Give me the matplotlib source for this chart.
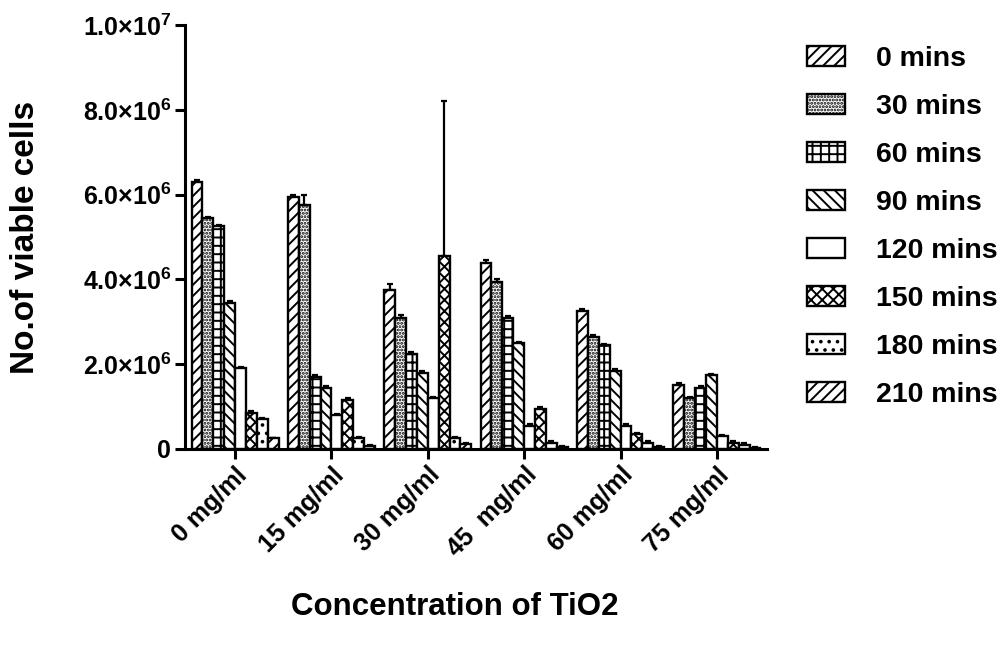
import numpy as np
import matplotlib.pyplot as plt

plt.rcParams['font.family'] = ['Liberation Sans', 'DejaVu Sans']
plt.rcParams['font.weight'] = 'bold'
plt.rcParams['mathtext.fontset'] = 'custom'
plt.rcParams['mathtext.rm'] = 'Liberation Sans:bold'
plt.rcParams['mathtext.it'] = 'Liberation Sans:bold'
plt.rcParams['mathtext.bf'] = 'Liberation Sans:bold'
plt.rcParams['hatch.linewidth'] = 1.4

# Concentrations on the x axis
concentrations = ['0 mg/ml', '15 mg/ml', '30 mg/ml', '45  mg/ml', '60 mg/ml', '75 mg/ml']
times = ['0 mins', '30 mins', '60 mins', '90 mins', '120 mins', '150 mins', '180 mins', '210 mins']

# Viable cell counts (x1e6) per exposure time, one value per concentration
cells_0 = [6.30, 5.95, 3.75, 4.40, 3.25, 1.50]
cells_30 = [5.45, 5.75, 3.10, 3.95, 2.65, 1.20]
cells_60 = [5.25, 1.70, 2.25, 3.10, 2.45, 1.45]
cells_90 = [3.45, 1.45, 1.80, 2.50, 1.85, 1.75]
cells_120 = [1.90, 0.80, 1.20, 0.55, 0.55, 0.30]
cells_150 = [0.85, 1.15, 4.55, 0.95, 0.35, 0.15]
cells_180 = [0.70, 0.25, 0.25, 0.15, 0.15, 0.10]
cells_210 = [0.25, 0.07, 0.12, 0.05, 0.05, 0.03]

# Upper error (x1e6)
err_0 = [0.05, 0.05, 0.15, 0.05, 0.05, 0.05]
err_30 = [0.03, 0.25, 0.05, 0.05, 0.05, 0.03]
err_60 = [0.03, 0.05, 0.03, 0.03, 0.03, 0.03]
err_90 = [0.03, 0.03, 0.03, 0.03, 0.03, 0.03]
err_120 = [0.03, 0.03, 0.03, 0.03, 0.03, 0.03]
err_150 = [0.05, 0.05, 3.65, 0.03, 0.03, 0.03]
err_180 = [0.03, 0.03, 0.03, 0.03, 0.03, 0.03]
err_210 = [0.02, 0.02, 0.02, 0.02, 0.02, 0.02]

series = [cells_0, cells_30, cells_60, cells_90, cells_120, cells_150, cells_180, cells_210]
errors = [err_0, err_30, err_60, err_90, err_120, err_150, err_180, err_210]
hatches = ['///', '.....', '++', '\\\\\\', '', 'xxx', '..', '///']

fig = plt.figure(figsize=(10.03, 6.46), dpi=100)
ax = fig.add_axes([0.1844, 0.305, 0.5803, 0.656])

x = np.arange(len(concentrations))
n = len(series)
width = 0.113
for i in range(n):
    pos = x + (i - (n - 1) / 2) * width
    vals = np.array(series[i]) * 1e6
    err = np.array(errors[i]) * 1e6
    ax.bar(pos, vals, width, color='white', edgecolor='black', linewidth=1.7,
           hatch=hatches[i], label=times[i], zorder=2)
    ax.errorbar(pos, vals, yerr=[np.zeros_like(err), err], fmt='none',
                ecolor='black', elinewidth=1.6, capsize=2, capthick=1.6, zorder=1)

ax.set_xlim(-0.52, 5.52)
ax.set_ylim(0, 1e7)
ax.set_yticks([0, 2e6, 4e6, 6e6, 8e6, 1e7])
ax.set_yticklabels(['0', '2.0×10$^{6}$', '4.0×10$^{6}$', '6.0×10$^{6}$',
                    '8.0×10$^{6}$', '1.0×10$^{7}$'], fontsize=18, fontweight='bold')
ax.set_xticks(x)
ax.set_xticklabels(concentrations, rotation=45, ha='right', rotation_mode='anchor',
                   fontsize=18, fontweight='bold')

for side in ['top', 'right']:
    ax.spines[side].set_visible(False)
for side in ['left', 'bottom']:
    ax.spines[side].set_linewidth(2.2)
ax.tick_params(axis='both', width=2.2, length=7, pad=3)

ax.set_ylabel('No.of viable cells', fontsize=24, fontweight='bold', labelpad=30)
ax.set_xlabel('Concentration of TiO2', fontsize=22.5, fontweight='bold', labelpad=22)
ax.xaxis.label.set_x(0.464)

fig.legend(loc='upper left', bbox_to_anchor=(0.779, 0.968), frameon=False,
           prop={'size': 20.5, 'weight': 'bold'}, handlelength=1.33, handleheight=0.7,
           handletextpad=1.1, labelspacing=0.77)

fig.savefig('out.png', dpi=100)
